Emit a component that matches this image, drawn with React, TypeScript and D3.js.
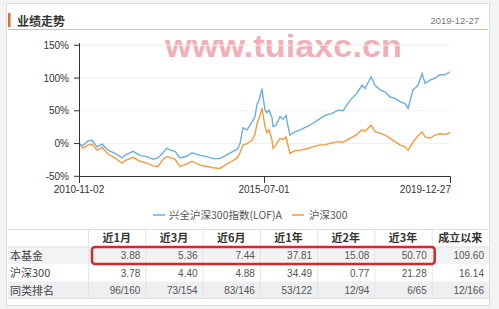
import React from 'react';
import * as d3 from 'd3';

const dates = [
  '2010-11-02','2010-12-09','2011-01-24','2011-03-02','2011-04-17','2011-06-02','2011-07-27','2011-09-29',
  '2011-12-03','2011-12-30','2012-03-13','2012-05-16','2012-07-20','2012-09-13','2012-10-29','2012-12-14',
  '2013-01-20','2013-02-16','2013-04-03','2013-05-19','2013-07-23','2013-09-07','2013-11-19','2014-01-23',
  '2014-03-19','2014-05-22','2014-07-26','2014-09-19','2014-10-26','2014-11-22','2014-12-20','2015-01-26',
  '2015-03-13','2015-04-09','2015-04-28','2015-05-16','2015-06-13','2015-06-22','2015-07-10','2015-07-27',
  '2015-08-14','2015-09-10','2015-09-18','2015-10-15','2015-11-19','2015-12-16','2016-01-11','2016-01-29',
  '2016-02-15','2016-03-30','2016-05-14','2016-07-14','2016-09-05','2016-11-06','2016-12-20','2017-02-20',
  '2017-04-14','2017-05-28','2017-07-29','2017-09-28','2017-11-11','2017-12-08','2018-01-30','2018-03-06',
  '2018-04-19','2018-06-02','2018-07-16','2018-08-29','2018-10-12','2018-11-26','2018-12-22','2019-02-04',
  '2019-03-20','2019-04-25','2019-05-21','2019-07-04','2019-08-17','2019-09-30','2019-11-13','2019-12-27'
];

const fundValues = [
  0, -3, 4, 5, -5, -1, -10, -15,
  -22, -18, -12, -18, -20, -24, -22, -14,
  -7, -10, -12, -22, -19, -14, -18, -20,
  -23, -23, -17, -12, -9, 0, 24, 21,
  33, 41, 60, 66, 84, 71, 51, 47,
  51, 39, 26, 28, 41, 37, 43, 26,
  13, 18, 21, 26, 31, 38, 43, 46,
  51, 50, 66, 77, 89, 84, 102, 89,
  82, 79, 71, 69, 64, 61, 54, 82,
  89, 107, 92, 97, 100, 105, 105, 109.6
];

const indexValues = [
  0, -7, -2, -1, -10, -6, -16, -22,
  -30, -26, -21, -27, -30, -34, -35, -24,
  -20, -21, -24, -35, -31, -27, -33, -35,
  -37, -38, -31, -26, -22, -14, -2, 0,
  5, 14, 31, 38, 54, 44, 26, 17,
  21, 5, -7, -2, 8, 6, 10, -3,
  -15, -11, -10, -8, -5, -2, -2, 1,
  3, 2, 8, 14, 21, 19, 28, 18,
  16, 13, 8, 3, -2, -5, -10, 2,
  12, 18, 10, 8, 13, 15, 14, 16.14
];

const yTicks = [-50, 0, 50, 100, 150];
const xTickDates = ['2010-11-02', '2015-07-01', '2019-12-27'];
const seriesNames = ['兴全沪深300指数(LOF)A', '沪深300'];
const tableHeaders = ['近1月', '近3月', '近6月', '近1年', '近2年', '近3年', '成立以来'];
const rowLabels = ['本基金', '沪深300', '同类排名'];
const fundReturns = ['3.88', '5.36', '7.44', '37.81', '15.08', '50.70', '109.60'];
const indexReturns = ['3.78', '4.40', '4.88', '34.49', '0.77', '21.28', '16.14'];
const ranks = ['96/160', '73/154', '83/146', '53/122', '12/94', '6/65', '12/166'];

const BLUE = '#6aaee2';
const ORANGE = '#f29a3e';
const CJK = '"Noto Sans CJK SC", "Noto Sans", sans-serif';
const LAT = '"Liberation Sans", Arial, sans-serif';

export default function App() {
  const parse = d3.timeParse('%Y-%m-%d');
  const dts = dates.map((d) => parse(d) as Date);
  const tickDts = xTickDates.map((d) => parse(d) as Date);

  const x = d3.scaleTime().domain(tickDts).range([79, 264, 450]);
  const y = d3.scaleLinear().domain([-50, 150]).range([176.3, 45.3]);

  const line = d3
    .line<number>()
    .x((_, i) => x(dts[i]))
    .y((v) => y(v))
    .curve(d3.curveLinear);

  const col = d3.scaleBand<string>().domain(tableHeaders).range([88, 489]);
  const rowKeys = ['header', ...rowLabels];
  const row = d3.scaleBand<string>().domain(rowKeys).range([229, 299]);
  const rowData = [fundReturns, indexReturns, ranks];
  const rowBg = ['#f2f3f5', '#ffffff', '#eeeff1'];

  const boxX0 = (col(tableHeaders[0]) as number) + 4;
  const boxX1 = (col(tableHeaders[5]) as number) + col.bandwidth() + 3;

  return (
    <svg
      width={499}
      height={309}
      style={{ position: 'absolute', left: 0, top: 0, background: '#f3f3f3' }}
    >
      <rect x={6.5} y={3.5} width={483} height={302} fill="#ffffff" stroke="#dcdcdc" />

      {/* title */}
      <rect x={8} y={13} width={2.5} height={14} fill="#d9703a" />
      <text x={17} y={26} fontFamily={CJK} fontSize={12} fontWeight="bold" fill="#333">
        业绩走势
      </text>
      <text x={479} y={24} textAnchor="end" fontFamily={LAT} fontSize={9.5} fill="#777">
        2019-12-27
      </text>
      <line x1={8} x2={488} y1={29.5} y2={29.5} stroke="#f1b896" strokeWidth={1.2} />

      {/* watermark */}
      <text
        x={165}
        y={57}
        fontFamily={LAT}
        fontWeight="bold"
        fontSize={31}
        fill="#f09aa5"
        opacity={0.8}
        textLength={237}
        lengthAdjust="spacingAndGlyphs"
      >
        www.tuiaxc.cn
      </text>

      {/* grid */}
      {yTicks.map((t) => (
        <line key={'g' + t} x1={79} x2={450} y1={y(t)} y2={y(t)} stroke="#f0f0f0" />
      ))}

      {/* lines */}
      <path d={line(indexValues) || ''} fill="none" stroke={ORANGE} strokeWidth={1.4} />
      <path d={line(fundValues) || ''} fill="none" stroke={BLUE} strokeWidth={1.4} />

      {/* y axis */}
      <line x1={79.5} x2={79.5} y1={43} y2={176.5} stroke="#333" />
      {yTicks.map((t) => (
        <g key={'y' + t}>
          <line x1={74} x2={79.5} y1={y(t)} y2={y(t)} stroke="#333" />
          <text
            x={69}
            y={y(t) + 3.5}
            textAnchor="end"
            fontFamily={LAT}
            fontSize={10}
            fill="#333"
          >
            {t}%
          </text>
        </g>
      ))}

      {/* x axis */}
      <line x1={79} x2={450.5} y1={176.5} y2={176.5} stroke="#333" />
      {tickDts.map((d, i) => (
        <g key={'x' + i}>
          <line x1={x(d) + 0.5} x2={x(d) + 0.5} y1={176.5} y2={183} stroke="#333" />
          <text
            x={i === tickDts.length - 1 ? x(d) + 1 : x(d)}
            y={193}
            textAnchor={i === tickDts.length - 1 ? 'end' : 'middle'}
            fontFamily={LAT}
            fontSize={10}
            fill="#333"
          >
            {xTickDates[i]}
          </text>
        </g>
      ))}

      {/* legend */}
      <line x1={153} x2={165} y1={215} y2={215} stroke={BLUE} strokeWidth={1.5} />
      <text x={169} y={219} fontFamily={CJK} fontSize={10.5} fill="#555">
        {seriesNames[0]}
      </text>
      <line x1={292} x2={304} y1={215} y2={215} stroke={ORANGE} strokeWidth={1.5} />
      <text x={309} y={219} fontFamily={CJK} fontSize={10.5} fill="#555">
        {seriesNames[1]}
      </text>

      {/* table */}
      {rowKeys.map((rk, ri) => (
        <rect
          key={'bg' + rk}
          x={8}
          y={row(rk) as number}
          width={481}
          height={row.bandwidth()}
          fill={ri === 0 ? '#ffffff' : rowBg[ri - 1]}
        />
      ))}
      <line x1={8} x2={489} y1={229.5} y2={229.5} stroke="#dedede" />
      <line x1={8} x2={489} y1={(row('本基金') as number) + 0.5} y2={(row('本基金') as number) + 0.5} stroke="#e3e3e3" />
      <line x1={8} x2={489} y1={298.5} y2={298.5} stroke="#dedede" />
      {[88, ...tableHeaders.slice(1).map((h) => col(h) as number)].map((cx, i) => (
        <line
          key={'vs' + i}
          x1={cx + 0.5}
          x2={cx + 0.5}
          y1={229.5}
          y2={298}
          stroke="#e4e4e4"
        />
      ))}
      {tableHeaders.map((h) => (
        <text
          key={'h' + h}
          x={(col(h) as number) + col.bandwidth() / 2}
          y={(row('header') as number) + 13}
          textAnchor="middle"
          fontFamily={CJK}
          fontSize={11}
          fontWeight="bold"
          fill="#333"
        >
          {h}
        </text>
      ))}
      {rowLabels.map((lbl, ri) => (
        <g key={'r' + lbl}>
          <text
            x={10}
            y={(row(lbl) as number) + 13}
            fontFamily={CJK}
            fontSize={11}
            fill="#444"
          >
            {lbl}
          </text>
          {rowData[ri].map((v, ci) => (
            <text
              key={'c' + ci}
              x={(col(tableHeaders[ci]) as number) + col.bandwidth() - 5}
              y={(row(lbl) as number) + 12.5}
              textAnchor="end"
              fontFamily={LAT}
              fontSize={10}
              fill="#555"
            >
              {v}
            </text>
          ))}
        </g>
      ))}

      {/* highlight box */}
      <rect
        x={boxX0}
        y={(row('本基金') as number) + 0.5}
        width={boxX1 - boxX0}
        height={row.bandwidth() - 0.5}
        rx={3}
        fill="none"
        stroke="#d3282c"
        strokeWidth={2.5}
      />
    </svg>
  );
}
